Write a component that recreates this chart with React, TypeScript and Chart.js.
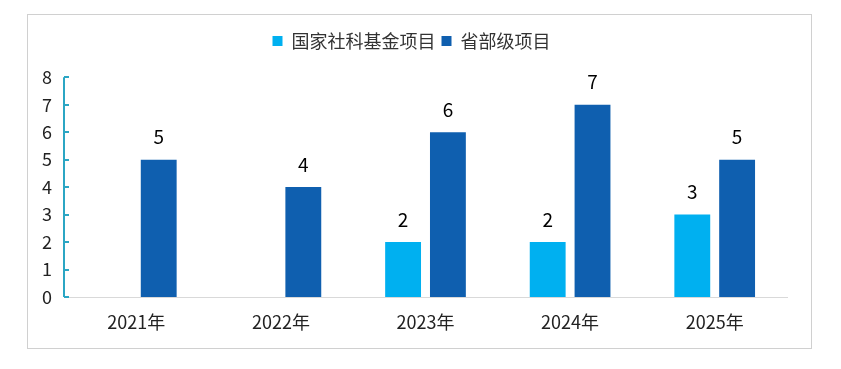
import React, { useEffect, useRef } from "react";
import { Chart, registerables } from "chart.js";

Chart.register(...registerables);

const categories = ["2021年", "2022年", "2023年", "2024年", "2025年"];
const nationalValues = [null, null, 2, 2, 3];
const provincialValues = [5, 4, 6, 7, 5];
const seriesNames = ["国家社科基金项目", "省部级项目"];
const yTicks = [0, 1, 2, 3, 4, 5, 6, 7, 8];

const FONT = "'Noto Sans CJK SC', 'Noto Sans', sans-serif";

const axisPlugin = {
  id: "customAxis",
  afterDraw(chart: any) {
    const ctx = chart.ctx;
    const y = chart.scales.y;
    const left = chart.chartArea.left;
    ctx.save();
    ctx.strokeStyle = "#2BA6C4";
    ctx.lineWidth = 2;
    ctx.beginPath();
    ctx.moveTo(left, y.getPixelForValue(8));
    ctx.lineTo(left, y.getPixelForValue(0));
    ctx.stroke();
    yTicks.forEach((t) => {
      const py = Math.round(y.getPixelForValue(t));
      ctx.beginPath();
      ctx.moveTo(left, py);
      ctx.lineTo(left + 5, py);
      ctx.stroke();
    });
    ctx.restore();
  },
};

const valueLabelPlugin = {
  id: "valueLabels",
  afterDatasetsDraw(chart: any) {
    const ctx = chart.ctx;
    ctx.save();
    ctx.fillStyle = "#000";
    ctx.font = `19px ${FONT}`;
    ctx.textAlign = "center";
    ctx.textBaseline = "bottom";
    chart.data.datasets.forEach((ds: any, i: number) => {
      const meta = chart.getDatasetMeta(i);
      meta.data.forEach((bar: any, j: number) => {
        const v = ds.data[j];
        if (v === null || v === undefined) return;
        ctx.fillText(String(v), bar.x, bar.y - 13);
      });
    });
    ctx.restore();
  },
};

export default function App() {
  const ref = useRef<HTMLCanvasElement>(null);
  useEffect(() => {
    if (!ref.current) return;
    const chart = new Chart(ref.current, {
      type: "bar",
      data: {
        labels: categories,
        datasets: [
          {
            label: seriesNames[0],
            data: nationalValues,
            backgroundColor: "#00B0F0",
            categoryPercentage: 0.62,
            barPercentage: 0.8,
          },
          {
            label: seriesNames[1],
            data: provincialValues,
            backgroundColor: "#0F5FAF",
            categoryPercentage: 0.62,
            barPercentage: 0.8,
          },
        ],
      },
      options: {
        animation: false,
        responsive: false,
        layout: { padding: { top: 11, right: 24, left: 8, bottom: 0 } },
        plugins: {
          legend: {
            display: true,
            position: "top",
            weight: 1000,
            labels: {
              boxWidth: 10,
              boxHeight: 10,
              padding: 6,
              color: "#333",
              font: { family: FONT, size: 18 },
            },
          },
          subtitle: {
            display: true,
            text: "",
            position: "top",
            weight: 500,
            font: { size: 1 },
            padding: { top: 0, bottom: 16 },
          },
          tooltip: { enabled: false },
        },
        scales: {
          x: {
            grid: { display: false },
            border: { display: true, color: "#D9D9D9", width: 1 },
            ticks: { color: "#222", font: { family: FONT, size: 18 }, padding: 6 },
            afterFit(scale: any) {
              scale.height = 51;
            },
          },
          y: {
            min: 0,
            max: 8,
            grid: { display: false, drawTicks: false },
            border: { display: false },
            ticks: {
              stepSize: 1,
              color: "#222",
              font: { family: FONT, size: 18 },
              padding: 12,
            },
            afterFit(scale: any) {
              scale.width = 28;
            },
          },
        },
      },
      plugins: [axisPlugin, valueLabelPlugin],
    });
    return () => chart.destroy();
  }, []);

  return (
    <div
      style={{
        position: "absolute",
        left: 27,
        top: 14,
        width: 783,
        height: 333,
        border: "1px solid #D0D0D0",
        background: "#fff",
      }}
    >
      <canvas ref={ref} width={783} height={333} style={{ display: "block" }} />
    </div>
  );
}
